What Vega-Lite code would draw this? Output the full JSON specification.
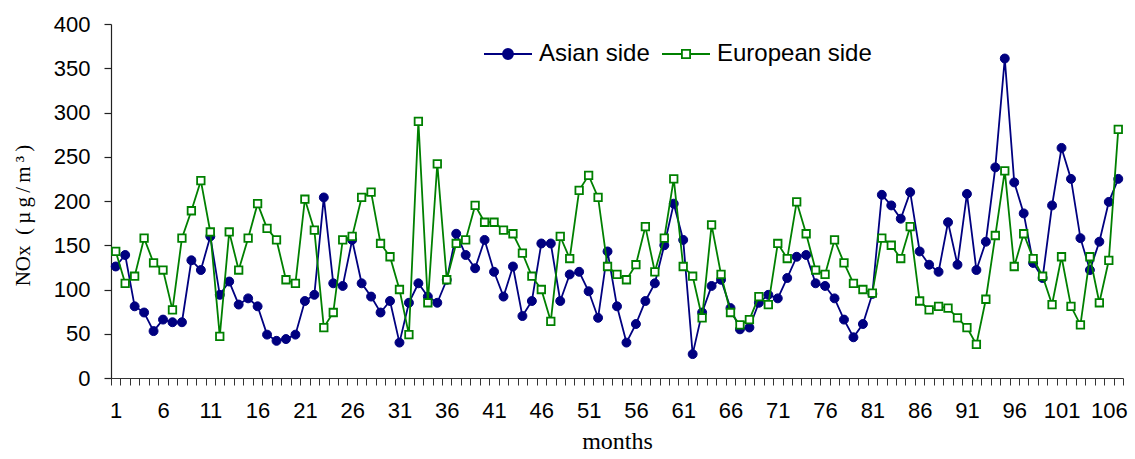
{
  "$schema": "https://vega.github.io/schema/vega-lite/v6.json",
  "autosize": {"type": "none"},
  "padding": {"left": 111, "top": 24, "right": 12, "bottom": 81},
  "width": 1012,
  "height": 354,
  "background": "white",
  "config": {"view": {"stroke": null}, "axisY": {"domain": true, "ticks": true, "domainColor": "#222", "domainWidth": 1.2, "tickColor": "#222", "tickWidth": 1.2}},
  "data": {"values": [
    {"m":1,"s":"Asian side","v":126},{"m":1,"s":"European side","v":143},
    {"m":2,"s":"Asian side","v":139},{"m":2,"s":"European side","v":107},
    {"m":3,"s":"Asian side","v":81},{"m":3,"s":"European side","v":115},
    {"m":4,"s":"Asian side","v":74},{"m":4,"s":"European side","v":158},
    {"m":5,"s":"Asian side","v":53},{"m":5,"s":"European side","v":130},
    {"m":6,"s":"Asian side","v":66},{"m":6,"s":"European side","v":122},
    {"m":7,"s":"Asian side","v":63},{"m":7,"s":"European side","v":77},
    {"m":8,"s":"Asian side","v":63},{"m":8,"s":"European side","v":158},
    {"m":9,"s":"Asian side","v":133},{"m":9,"s":"European side","v":189},
    {"m":10,"s":"Asian side","v":122},{"m":10,"s":"European side","v":223},
    {"m":11,"s":"Asian side","v":160},{"m":11,"s":"European side","v":165},
    {"m":12,"s":"Asian side","v":94},{"m":12,"s":"European side","v":47},
    {"m":13,"s":"Asian side","v":109},{"m":13,"s":"European side","v":165},
    {"m":14,"s":"Asian side","v":83},{"m":14,"s":"European side","v":122},
    {"m":15,"s":"Asian side","v":90},{"m":15,"s":"European side","v":158},
    {"m":16,"s":"Asian side","v":81},{"m":16,"s":"European side","v":197},
    {"m":17,"s":"Asian side","v":49},{"m":17,"s":"European side","v":169},
    {"m":18,"s":"Asian side","v":42},{"m":18,"s":"European side","v":156},
    {"m":19,"s":"Asian side","v":44},{"m":19,"s":"European side","v":111},
    {"m":20,"s":"Asian side","v":49},{"m":20,"s":"European side","v":107},
    {"m":21,"s":"Asian side","v":87},{"m":21,"s":"European side","v":202},
    {"m":22,"s":"Asian side","v":94},{"m":22,"s":"European side","v":167},
    {"m":23,"s":"Asian side","v":204},{"m":23,"s":"European side","v":57},
    {"m":24,"s":"Asian side","v":107},{"m":24,"s":"European side","v":74},
    {"m":25,"s":"Asian side","v":104},{"m":25,"s":"European side","v":156},
    {"m":26,"s":"Asian side","v":156},{"m":26,"s":"European side","v":160},
    {"m":27,"s":"Asian side","v":107},{"m":27,"s":"European side","v":204},
    {"m":28,"s":"Asian side","v":92},{"m":28,"s":"European side","v":210},
    {"m":29,"s":"Asian side","v":74},{"m":29,"s":"European side","v":152},
    {"m":30,"s":"Asian side","v":87},{"m":30,"s":"European side","v":137},
    {"m":31,"s":"Asian side","v":40},{"m":31,"s":"European side","v":100},
    {"m":32,"s":"Asian side","v":85},{"m":32,"s":"European side","v":49},
    {"m":33,"s":"Asian side","v":107},{"m":33,"s":"European side","v":290},
    {"m":34,"s":"Asian side","v":92},{"m":34,"s":"European side","v":85},
    {"m":35,"s":"Asian side","v":85},{"m":35,"s":"European side","v":242},
    {"m":36,"s":"Asian side","v":111},{"m":36,"s":"European side","v":111},
    {"m":37,"s":"Asian side","v":163},{"m":37,"s":"European side","v":152},
    {"m":38,"s":"Asian side","v":139},{"m":38,"s":"European side","v":156},
    {"m":39,"s":"Asian side","v":124},{"m":39,"s":"European side","v":195},
    {"m":40,"s":"Asian side","v":156},{"m":40,"s":"European side","v":176},
    {"m":41,"s":"Asian side","v":120},{"m":41,"s":"European side","v":176},
    {"m":42,"s":"Asian side","v":92},{"m":42,"s":"European side","v":167},
    {"m":43,"s":"Asian side","v":126},{"m":43,"s":"European side","v":163},
    {"m":44,"s":"Asian side","v":70},{"m":44,"s":"European side","v":141},
    {"m":45,"s":"Asian side","v":87},{"m":45,"s":"European side","v":115},
    {"m":46,"s":"Asian side","v":152},{"m":46,"s":"European side","v":100},
    {"m":47,"s":"Asian side","v":152},{"m":47,"s":"European side","v":64},
    {"m":48,"s":"Asian side","v":87},{"m":48,"s":"European side","v":160},
    {"m":49,"s":"Asian side","v":117},{"m":49,"s":"European side","v":135},
    {"m":50,"s":"Asian side","v":120},{"m":50,"s":"European side","v":212},
    {"m":51,"s":"Asian side","v":98},{"m":51,"s":"European side","v":229},
    {"m":52,"s":"Asian side","v":68},{"m":52,"s":"European side","v":204},
    {"m":53,"s":"Asian side","v":143},{"m":53,"s":"European side","v":126},
    {"m":54,"s":"Asian side","v":81},{"m":54,"s":"European side","v":117},
    {"m":55,"s":"Asian side","v":40},{"m":55,"s":"European side","v":111},
    {"m":56,"s":"Asian side","v":61},{"m":56,"s":"European side","v":128},
    {"m":57,"s":"Asian side","v":87},{"m":57,"s":"European side","v":171},
    {"m":58,"s":"Asian side","v":107},{"m":58,"s":"European side","v":120},
    {"m":59,"s":"Asian side","v":150},{"m":59,"s":"European side","v":158},
    {"m":60,"s":"Asian side","v":197},{"m":60,"s":"European side","v":225},
    {"m":61,"s":"Asian side","v":156},{"m":61,"s":"European side","v":126},
    {"m":62,"s":"Asian side","v":27},{"m":62,"s":"European side","v":115},
    {"m":63,"s":"Asian side","v":74},{"m":63,"s":"European side","v":68},
    {"m":64,"s":"Asian side","v":104},{"m":64,"s":"European side","v":173},
    {"m":65,"s":"Asian side","v":111},{"m":65,"s":"European side","v":117},
    {"m":66,"s":"Asian side","v":79},{"m":66,"s":"European side","v":74},
    {"m":67,"s":"Asian side","v":55},{"m":67,"s":"European side","v":60},
    {"m":68,"s":"Asian side","v":57},{"m":68,"s":"European side","v":66},
    {"m":69,"s":"Asian side","v":85},{"m":69,"s":"European side","v":92},
    {"m":70,"s":"Asian side","v":94},{"m":70,"s":"European side","v":83},
    {"m":71,"s":"Asian side","v":90},{"m":71,"s":"European side","v":152},
    {"m":72,"s":"Asian side","v":113},{"m":72,"s":"European side","v":135},
    {"m":73,"s":"Asian side","v":137},{"m":73,"s":"European side","v":199},
    {"m":74,"s":"Asian side","v":139},{"m":74,"s":"European side","v":163},
    {"m":75,"s":"Asian side","v":107},{"m":75,"s":"European side","v":122},
    {"m":76,"s":"Asian side","v":104},{"m":76,"s":"European side","v":117},
    {"m":77,"s":"Asian side","v":90},{"m":77,"s":"European side","v":156},
    {"m":78,"s":"Asian side","v":66},{"m":78,"s":"European side","v":130},
    {"m":79,"s":"Asian side","v":46},{"m":79,"s":"European side","v":107},
    {"m":80,"s":"Asian side","v":61},{"m":80,"s":"European side","v":100},
    {"m":81,"s":"Asian side","v":95},{"m":81,"s":"European side","v":96},
    {"m":82,"s":"Asian side","v":207},{"m":82,"s":"European side","v":158},
    {"m":83,"s":"Asian side","v":195},{"m":83,"s":"European side","v":150},
    {"m":84,"s":"Asian side","v":180},{"m":84,"s":"European side","v":135},
    {"m":85,"s":"Asian side","v":210},{"m":85,"s":"European side","v":171},
    {"m":86,"s":"Asian side","v":143},{"m":86,"s":"European side","v":87},
    {"m":87,"s":"Asian side","v":128},{"m":87,"s":"European side","v":77},
    {"m":88,"s":"Asian side","v":120},{"m":88,"s":"European side","v":81},
    {"m":89,"s":"Asian side","v":176},{"m":89,"s":"European side","v":79},
    {"m":90,"s":"Asian side","v":128},{"m":90,"s":"European side","v":68},
    {"m":91,"s":"Asian side","v":208},{"m":91,"s":"European side","v":57},
    {"m":92,"s":"Asian side","v":122},{"m":92,"s":"European side","v":38},
    {"m":93,"s":"Asian side","v":154},{"m":93,"s":"European side","v":89},
    {"m":94,"s":"Asian side","v":238},{"m":94,"s":"European side","v":161},
    {"m":95,"s":"Asian side","v":361},{"m":95,"s":"European side","v":234},
    {"m":96,"s":"Asian side","v":221},{"m":96,"s":"European side","v":126},
    {"m":97,"s":"Asian side","v":186},{"m":97,"s":"European side","v":163},
    {"m":98,"s":"Asian side","v":130},{"m":98,"s":"European side","v":135},
    {"m":99,"s":"Asian side","v":113},{"m":99,"s":"European side","v":115},
    {"m":100,"s":"Asian side","v":195},{"m":100,"s":"European side","v":83},
    {"m":101,"s":"Asian side","v":260},{"m":101,"s":"European side","v":137},
    {"m":102,"s":"Asian side","v":225},{"m":102,"s":"European side","v":81},
    {"m":103,"s":"Asian side","v":158},{"m":103,"s":"European side","v":60},
    {"m":104,"s":"Asian side","v":122},{"m":104,"s":"European side","v":137},
    {"m":105,"s":"Asian side","v":154},{"m":105,"s":"European side","v":85},
    {"m":106,"s":"Asian side","v":199},{"m":106,"s":"European side","v":133},
    {"m":107,"s":"Asian side","v":225},{"m":107,"s":"European side","v":281}
  ]},
  "encoding": {
    "x": {
      "field": "m", "type": "ordinal",
      "scale": {"type": "band", "paddingInner": 0, "paddingOuter": 0},
      "axis": {
        "title": "months",
        "titleFont": "Liberation Serif", "titleFontSize": 24, "titleFontWeight": "normal", "titleColor": "black", "titlePadding": 8,
        "labelFont": "Liberation Sans", "labelFontSize": 22, "labelColor": "black", "labelAngle": 0, "labelPadding": 15,
        "labelOverlap": false, "labelExpr": "(datum.value - 1) % 5 === 0 ? datum.label : ''",
        "tickBand": "extent", "tickSize": 7, "tickColor": "#333", "domainColor": "#333", "grid": false
      }
    },
    "y": {
      "field": "v", "type": "quantitative",
      "scale": {"domain": [0, 400], "nice": false},
      "axis": {
        "title": "NOx\u00a0\u00a0(\u2009µ\u2009g\u2009/\u2009m\u2009³\u2009)",
        "titleFont": "Liberation Serif", "titleFontSize": 21, "titleFontWeight": "normal", "titleColor": "black", "titlePadding": 20, "titleY": 191,
        "labelFont": "Liberation Sans", "labelFontSize": 22, "labelColor": "black", "labelPadding": 14,
        "values": [0, 50, 100, 150, 200, 250, 300, 350, 400],
        "tickSize": 7, "grid": false
      }
    },
    "stroke": {
      "field": "s", "type": "nominal",
      "scale": {"domain": ["Asian side", "European side"], "range": ["#000080", "#008000"]},
      "legend": {
        "title": null, "orient": "none", "legendX": 372, "legendY": 5, "direction": "horizontal",
        "labelFont": "Liberation Sans", "labelFontSize": 24, "labelColor": "black", "labelOffset": 6,
        "columnPadding": 8, "symbolSize": 2304, "symbolStrokeWidth": 1.8,
        "encode": {
          "symbols": {
            "update": {
              "shape": {"signal": "datum.value === 'Asian side' ? 'M-1,0H1M0.21,0A0.21,0.21 0 1,1 -0.21,0A0.21,0.21 0 1,1 0.21,0Z' : 'M-1,0H-0.17M0.17,0H1M-0.17,-0.17H0.17V0.17H-0.17Z'"},
              "fill": {"signal": "datum.value === 'Asian side' ? '#000080' : '#ffffff'"},
              "strokeWidth": {"value": 1.8}
            }
          }
        }
      }
    }
  },
  "layer": [
    {
      "data": {"values": [{}]},
      "mark": {"type": "rule", "strokeWidth": 1.3},
      "encoding": {
        "x": {"datum": 1, "type": "ordinal", "bandPosition": 0},
        "y": {"datum": 0, "type": "quantitative"},
        "y2": {"datum": 400},
        "stroke": {"value": "#222"}
      }
    },
    {"transform": [{"filter": "datum.s === 'Asian side'"}], "mark": {"type": "line", "strokeWidth": 1.8}},
    {"transform": [{"filter": "datum.s === 'Asian side'"}], "mark": {"type": "point", "shape": "circle", "filled": true, "fill": "#000080", "size": 80, "strokeWidth": 1, "opacity": 1}},
    {"transform": [{"filter": "datum.s === 'European side'"}], "mark": {"type": "line", "strokeWidth": 1.8}},
    {"transform": [{"filter": "datum.s === 'European side'"}], "mark": {"type": "point", "shape": "square", "filled": true, "fill": "#ffffff", "size": 56, "strokeWidth": 1.8, "opacity": 1}}
  ]
}
